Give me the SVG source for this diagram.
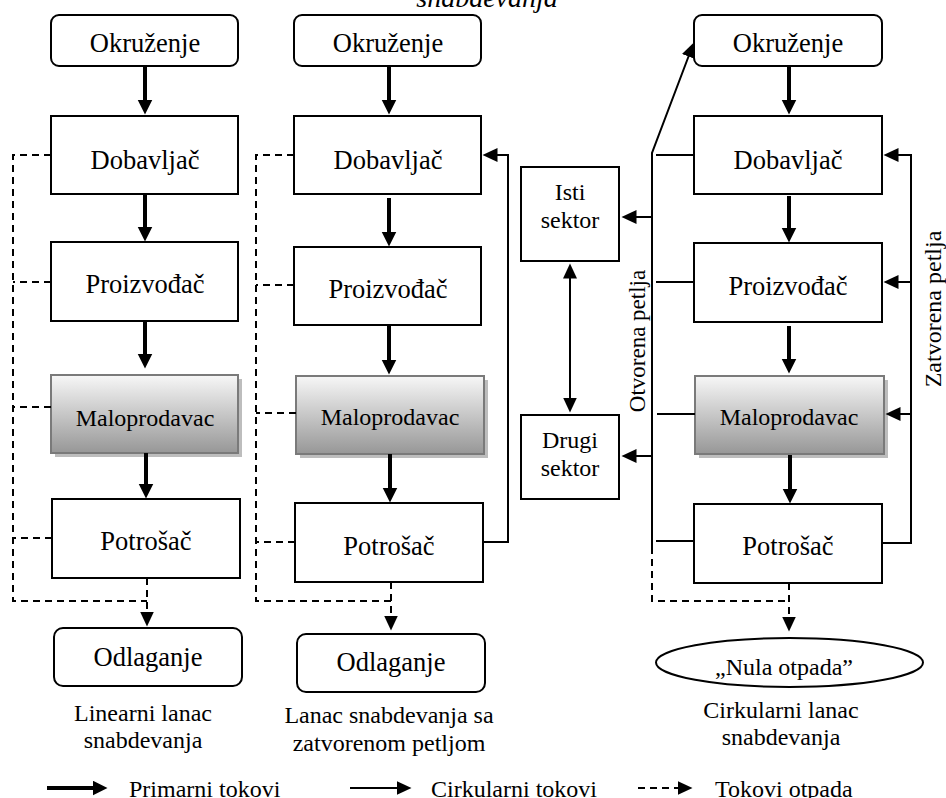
<svg xmlns="http://www.w3.org/2000/svg" width="946" height="798" viewBox="0 0 946 798">
<style>
text{font-family:"Liberation Serif","Times New Roman",serif;font-size:24px;fill:#000;text-anchor:middle}
.b{font-size:26.5px}
.box{fill:#fff;stroke:#000;stroke-width:2}
.mal{fill:url(#gr);stroke:#7a7a7a;stroke-width:2}
.sh{fill:#bdbdbd}
.p{fill:none;stroke:#000;stroke-width:4}
.c{fill:none;stroke:#000;stroke-width:2}
.w{fill:none;stroke:#000;stroke-width:2;stroke-dasharray:7 5}
.lg{text-anchor:start}
</style>
<defs>
<linearGradient id="gr" x1="0" y1="0" x2="0" y2="1">
<stop offset="0" stop-color="#f7f7f7"/>
<stop offset="1" stop-color="#979797"/>
</linearGradient>
<marker id="aP" markerUnits="userSpaceOnUse" markerWidth="16" markerHeight="16" refX="0.5" refY="7.5" orient="auto">
<path d="M0,0 L15,7.5 L0,15 z" fill="#000"/>
</marker>
<marker id="aC" markerUnits="userSpaceOnUse" markerWidth="16" markerHeight="16" refX="0.5" refY="7" orient="auto-start-reverse">
<path d="M0,0 L15,7 L0,14 z" fill="#000"/>
</marker>
</defs>

<text x="487" y="7" style="font-style:italic;font-size:28px">snabdevanja</text>

<!-- Column 1 -->
<g id="c1-okruzenje"><rect class="box" x="51" y="15" width="187" height="51" rx="8"/><text class="b" x="145" y="52">Okruženje</text></g>
<g id="c1-dobavljac"><rect class="box" x="51" y="116" width="187" height="78"/><text class="b" x="145" y="169">Dobavljač</text></g>
<g id="c1-proizvodjac"><rect class="box" x="51" y="242" width="187" height="79"/><text class="b" x="145" y="293">Proizvođač</text></g>
<g id="c1-maloprodavac"><rect class="sh" x="55" y="379" width="187" height="78"/><rect class="mal" x="51" y="375" width="187" height="78"/><text x="145" y="426">Maloprodavac</text></g>
<g id="c1-potrosac"><rect class="box" x="52" y="499" width="188" height="79"/><text class="b" x="146" y="550">Potrošač</text></g>
<g id="c1-odlaganje"><rect class="box" x="54" y="628" width="188" height="58" rx="9"/><text class="b" x="148" y="666">Odlaganje</text></g>
<g id="c1-caption"><text x="143" y="721">Linearni lanac</text><text x="143" y="748">snabdevanja</text></g>

<!-- Column 2 -->
<g id="c2-okruzenje"><rect class="box" x="294" y="15" width="187" height="51" rx="8"/><text class="b" x="388" y="52">Okruženje</text></g>
<g id="c2-dobavljac"><rect class="box" x="294" y="116" width="187" height="78"/><text class="b" x="388" y="169">Dobavljač</text></g>
<g id="c2-proizvodjac"><rect class="box" x="294" y="247" width="187" height="78"/><text class="b" x="388" y="298">Proizvođač</text></g>
<g id="c2-maloprodavac"><rect class="sh" x="300" y="380" width="188" height="78"/><rect class="mal" x="296" y="376" width="188" height="78"/><text x="390" y="425">Maloprodavac</text></g>
<g id="c2-potrosac"><rect class="box" x="295" y="503" width="188" height="79"/><text class="b" x="389" y="555">Potrošač</text></g>
<g id="c2-odlaganje"><rect class="box" x="297" y="634" width="188" height="58" rx="9"/><text class="b" x="391" y="671">Odlaganje</text></g>
<g id="c2-caption"><text x="389" y="723">Lanac snabdevanja sa</text><text x="389" y="751">zatvorenom petljom</text></g>

<!-- Middle sectors -->
<g id="isti-sektor"><rect class="box" x="521" y="167" width="98" height="94"/><text x="570" y="200">Isti</text><text x="570" y="228">sektor</text></g>
<g id="drugi-sektor"><rect class="box" x="521" y="415" width="98" height="84"/><text x="570" y="448">Drugi</text><text x="570" y="476">sektor</text></g>

<!-- Column 3 -->
<g id="c3-okruzenje"><rect class="box" x="694" y="15" width="188" height="51" rx="8"/><text class="b" x="788" y="52">Okruženje</text></g>
<g id="c3-dobavljac"><rect class="box" x="694" y="116" width="188" height="78"/><text class="b" x="788" y="169">Dobavljač</text></g>
<g id="c3-proizvodjac"><rect class="box" x="694" y="243" width="188" height="79"/><text class="b" x="788" y="295">Proizvođač</text></g>
<g id="c3-maloprodavac"><rect class="sh" x="699" y="380" width="189" height="78"/><rect class="mal" x="695" y="376" width="189" height="78"/><text x="789" y="425">Maloprodavac</text></g>
<g id="c3-potrosac"><rect class="box" x="694" y="504" width="188" height="79"/><text class="b" x="788" y="555">Potrošač</text></g>
<g id="c3-nula"><ellipse class="box" cx="789.5" cy="662.5" rx="133.5" ry="24.5"/><text x="784" y="675">„Nula otpada”</text></g>
<g id="c3-caption"><text x="781" y="718">Cirkularni lanac</text><text x="781" y="745">snabdevanja</text></g>

<text x="645" y="341" transform="rotate(-90 645 341)" style="font-size:23px">Otvorena petlja</text>
<text x="941" y="309" transform="rotate(-90 941 309)">Zatvorena petlja</text>

<g id="connectors">
<!-- primary col1 -->
<path class="p" d="M145,66 V100" marker-end="url(#aP)"/>
<path class="p" d="M145,194 V227" marker-end="url(#aP)"/>
<path class="p" d="M145,321 V354" marker-end="url(#aP)"/>
<path class="p" d="M146,453 V484" marker-end="url(#aP)"/>
<!-- primary col2 -->
<path class="p" d="M389,66 V100" marker-end="url(#aP)"/>
<path class="p" d="M389,198 V232" marker-end="url(#aP)"/>
<path class="p" d="M389,325 V360" marker-end="url(#aP)"/>
<path class="p" d="M390,454 V488" marker-end="url(#aP)"/>
<!-- primary col3 -->
<path class="p" d="M789,66 V100" marker-end="url(#aP)"/>
<path class="p" d="M789,196 V228" marker-end="url(#aP)"/>
<path class="p" d="M789,326 V359" marker-end="url(#aP)"/>
<path class="p" d="M790,455 V489" marker-end="url(#aP)"/>

<!-- waste col1 -->
<path class="w" d="M51,155 H13 V601 H147"/>
<path class="w" d="M51,282 H13"/>
<path class="w" d="M51,407 H13"/>
<path class="w" d="M52,538 H13"/>
<path class="w" d="M147,578 V612" marker-end="url(#aC)"/>
<!-- waste col2 -->
<path class="w" d="M294,155 H256 V601 H391"/>
<path class="w" d="M294,285 H256"/>
<path class="w" d="M296,413 H256"/>
<path class="w" d="M295,542 H256"/>
<path class="w" d="M391,582 V616" marker-end="url(#aC)"/>
<!-- waste col3 -->
<path class="w" d="M652,547 V601 H789"/>
<path class="w" d="M789,583 V617" marker-end="url(#aC)"/>

<!-- closed loop col2 -->
<path class="c" d="M483,542 H508 V155 H497" marker-end="url(#aC)"/>

<!-- open loop col3 -->
<path class="c" d="M652,547 V153 L688.7,56" marker-end="url(#aC)"/>
<path class="c" d="M694,155 H656"/>
<path class="c" d="M694,282 H656"/>
<path class="c" d="M695,414 H657"/>
<path class="c" d="M694,541 H656"/>
<path class="c" d="M652,217 H636" marker-end="url(#aC)"/>
<path class="c" d="M652,456 H636" marker-end="url(#aC)"/>
<path class="c" d="M570,278 V398" marker-start="url(#aC)" marker-end="url(#aC)"/>

<!-- closed loop col3 -->
<path class="c" d="M882,543 H911 V155 H898" marker-end="url(#aC)"/>
<path class="c" d="M911,282 H898" marker-end="url(#aC)"/>
<path class="c" d="M911,414 H900" marker-end="url(#aC)"/>
</g>

<g id="legend">
<path class="p" d="M47,788 H93" marker-end="url(#aP)"/>
<text class="lg" x="129" y="797">Primarni tokovi</text>
<path class="c" d="M350,788 H397" marker-end="url(#aC)"/>
<text class="lg" x="431" y="797">Cirkularni tokovi</text>
<path class="w" d="M638,788 H678" marker-end="url(#aC)"/>
<text class="lg" x="715" y="797">Tokovi otpada</text>
</g>
</svg>
